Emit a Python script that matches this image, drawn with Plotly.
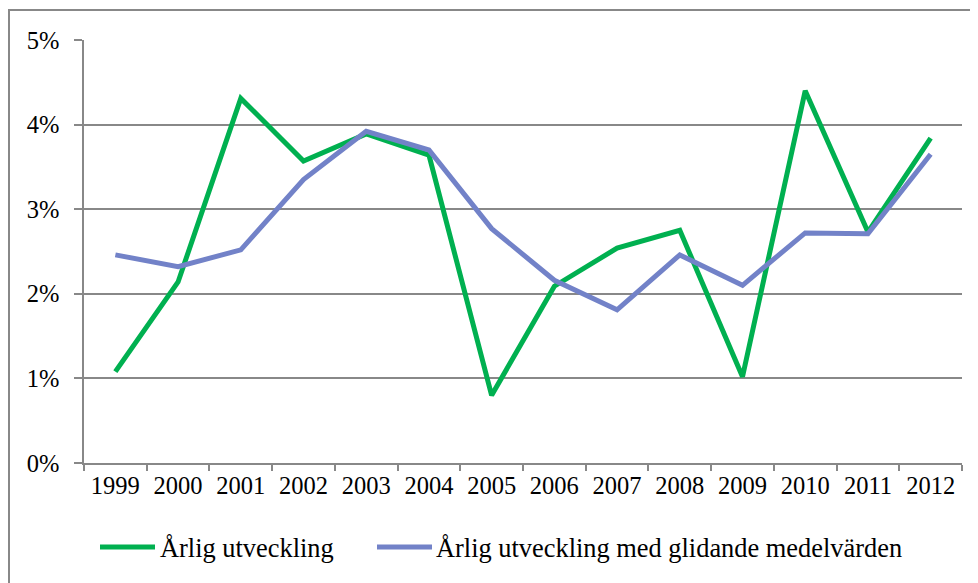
import plotly.graph_objects as go

years = ["1999", "2000", "2001", "2002", "2003", "2004", "2005", "2006",
         "2007", "2008", "2009", "2010", "2011", "2012"]
arlig = [1.08, 2.14, 4.31, 3.57, 3.89, 3.64, 0.80, 2.09, 2.54, 2.75, 1.02, 4.40, 2.73, 3.84]
glidande = [2.46, 2.32, 2.52, 3.35, 3.92, 3.70, 2.77, 2.16, 1.81, 2.46, 2.10, 2.72, 2.71, 3.65]
series_names = ["Årlig utveckling", "Årlig utveckling med glidande medelvärden"]
series_colors = ["#00B050", "#7282C8"]

arlig_f = [v / 100 for v in arlig]
glidande_f = [v / 100 for v in glidande]

fig = go.Figure()
for vals, name, col in zip([arlig_f, glidande_f], series_names, series_colors):
    fig.add_trace(go.Scatter(x=years, y=vals, mode="lines", name=name,
                             line=dict(color=col, width=5), showlegend=False))

fam = "Times New Roman, Liberation Serif, serif"
tick_font = dict(family=fam, size=24.5, color="black")
leg_font = dict(family=fam, size=26.4, color="black")

L, T, PW, PH = 76, 32, 878, 423


def px(xp):  # page x -> paper x
    return (xp - 8 - L) / PW


def py(yp):  # page y -> paper y
    return (T + PH - (yp - 8)) / PH


# legend drawn manually: line segments + text
leg_y = 547
leg_items = [(100, 155, 160), (377, 432, 436)]
shapes = [dict(type="rect", xref="paper", yref="paper",
               x0=(1 - L) / PW, x1=1.1, y0=-0.5, y1=(T + PH - 2) / PH,
               line=dict(color="#888888", width=2), layer="below")]
annotations = []
for (x0, x1, xt), name, col in zip(leg_items, series_names, series_colors):
    shapes.append(dict(type="line", xref="paper", yref="paper",
                       x0=px(x0), x1=px(x1), y0=py(leg_y), y1=py(leg_y),
                       line=dict(color=col, width=5)))
    annotations.append(dict(text=name, xref="paper", yref="paper", x=px(xt - 2),
                            y=py(leg_y + 1), xanchor="left", yanchor="middle",
                            showarrow=False, font=leg_font))

fig.update_layout(
    width=978, height=583,
    margin=dict(l=L, r=978 - L - PW, t=T, b=583 - T - PH, autoexpand=False),
    paper_bgcolor="white", plot_bgcolor="white",
    font=tick_font,
    showlegend=False,
    xaxis=dict(type="category", range=[-0.5, 13.5], showline=True, linecolor="#888888",
               linewidth=1.5, ticks="outside", tickson="boundaries", ticklen=6,
               tickcolor="#888888", tickwidth=1.5, showgrid=False, tickfont=tick_font,
               automargin=False),
    yaxis=dict(range=[0, 0.05], dtick=0.01, tickformat=".0%", showline=True,
               linecolor="#888888", linewidth=1.5, ticks="outside", ticklen=8,
               tickcolor="#888888", tickwidth=1.5, showgrid=True, gridcolor="#888888",
               gridwidth=1.5, zeroline=False, tickfont=tick_font, automargin=False,
               ticklabelstandoff=10),
    shapes=shapes,
    annotations=annotations,
)

fig.write_html("out.html")
